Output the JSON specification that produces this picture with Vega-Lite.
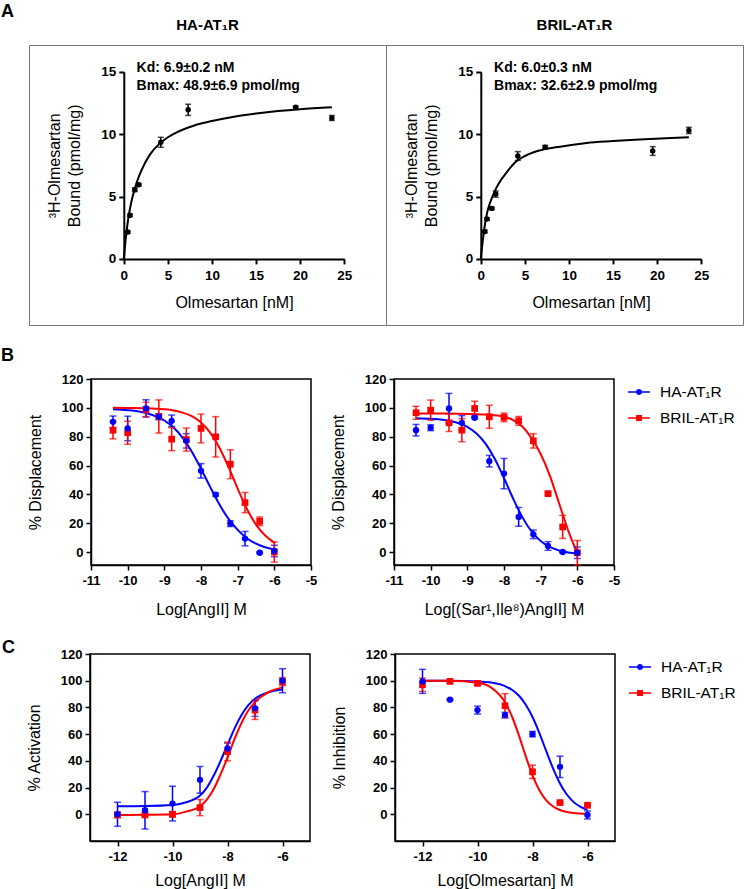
{
  "$schema": "https://vega.github.io/schema/vega-lite/v6.json",
  "padding": {"left": 1, "top": 2, "right": 0, "bottom": 0},
  "background": "white",
  "config": {
    "font": "Liberation Sans",
    "locale": {"number": {"decimal": ".", "thousands": ",", "grouping": [3], "currency": ["$", ""], "minus": "-"}},
    "view": {"stroke": "black", "strokeWidth": 1.5},
    "axis": {
      "grid": false, "labelFlush": false, "labelOverlap": false,
      "domainColor": "black", "domainWidth": 1.5, "tickColor": "black", "tickWidth": 1.5, "tickSize": 5,
      "labelColor": "black", "labelFont": "Liberation Sans", "labelFontSize": 13, "labelFontWeight": "bold", "labelPadding": 4,
      "titleColor": "black", "titleFont": "Liberation Sans", "titleFontSize": 16, "titleFontWeight": "normal"
    },
    "title": {"font": "Liberation Sans", "color": "black"},
    "legend": {"labelFont": "Liberation Sans", "labelColor": "black"},
    "text": {"font": "Liberation Sans"}
  },
  "datasets": {
    "notes": [
      {"panel": "A1", "lines": ["Kd: 6.9±0.2 nM", "Bmax: 48.9±6.9 pmol/mg"]},
      {"panel": "A2", "lines": ["Kd: 6.0±0.3 nM", "Bmax: 32.6±2.9 pmol/mg"]}
    ],
    "pts": [
      {"panel": "A1", "group": "-", "x": 0.45, "y": 2.15, "e": 0.1},
      {"panel": "A1", "group": "-", "x": 0.7, "y": 3.5, "e": 0.1},
      {"panel": "A1", "group": "-", "x": 1.25, "y": 5.55, "e": 0.15},
      {"panel": "A1", "group": "-", "x": 1.7, "y": 5.95, "e": 0.1},
      {"panel": "A1", "group": "-", "x": 4.2, "y": 9.35, "e": 0.4},
      {"panel": "A1", "group": "-", "x": 7.3, "y": 11.95, "e": 0.45},
      {"panel": "A1", "group": "-", "x": 19.5, "y": 12.15, "e": 0.1},
      {"panel": "A1", "group": "-", "x": 23.6, "y": 11.3, "e": 0.2},
      {"panel": "A2", "group": "-", "x": 0.45, "y": 2.2, "e": 0.1},
      {"panel": "A2", "group": "-", "x": 0.7, "y": 3.2, "e": 0.1},
      {"panel": "A2", "group": "-", "x": 1.25, "y": 4.05, "e": 0.1},
      {"panel": "A2", "group": "-", "x": 1.7, "y": 5.2, "e": 0.25},
      {"panel": "A2", "group": "-", "x": 4.2, "y": 8.25, "e": 0.35},
      {"panel": "A2", "group": "-", "x": 7.3, "y": 8.95, "e": 0.15},
      {"panel": "A2", "group": "-", "x": 19.5, "y": 8.65, "e": 0.35},
      {"panel": "A2", "group": "-", "x": 23.6, "y": 10.3, "e": 0.25},

      {"panel": "B1", "group": "HA-AT₁R", "x": -10.4, "y": 90.3, "e": 4},
      {"panel": "B1", "group": "HA-AT₁R", "x": -10, "y": 85.7, "e": 8.5},
      {"panel": "B1", "group": "HA-AT₁R", "x": -9.5, "y": 99.6, "e": 6},
      {"panel": "B1", "group": "HA-AT₁R", "x": -9.15, "y": 93.8, "e": 2},
      {"panel": "B1", "group": "HA-AT₁R", "x": -8.8, "y": 91, "e": 4},
      {"panel": "B1", "group": "HA-AT₁R", "x": -8.4, "y": 77.1, "e": 5},
      {"panel": "B1", "group": "HA-AT₁R", "x": -8, "y": 56.3, "e": 5},
      {"panel": "B1", "group": "HA-AT₁R", "x": -7.6, "y": 39.8, "e": 1},
      {"panel": "B1", "group": "HA-AT₁R", "x": -7.2, "y": 19.7, "e": 2},
      {"panel": "B1", "group": "HA-AT₁R", "x": -6.8, "y": 9.3, "e": 5},
      {"panel": "B1", "group": "HA-AT₁R", "x": -6.4, "y": -0.5, "e": 0.5},
      {"panel": "B1", "group": "HA-AT₁R", "x": -6, "y": 0.7, "e": 4},
      {"panel": "B1", "group": "BRIL-AT₁R", "x": -10.4, "y": 84.5, "e": 6},
      {"panel": "B1", "group": "BRIL-AT₁R", "x": -10, "y": 82.7, "e": 8},
      {"panel": "B1", "group": "BRIL-AT₁R", "x": -9.5, "y": 98.9, "e": 5},
      {"panel": "B1", "group": "BRIL-AT₁R", "x": -9.15, "y": 94, "e": 11.5},
      {"panel": "B1", "group": "BRIL-AT₁R", "x": -8.8, "y": 78.3, "e": 8},
      {"panel": "B1", "group": "BRIL-AT₁R", "x": -8.4, "y": 78, "e": 8},
      {"panel": "B1", "group": "BRIL-AT₁R", "x": -8, "y": 85.7, "e": 10},
      {"panel": "B1", "group": "BRIL-AT₁R", "x": -7.6, "y": 79.9, "e": 14},
      {"panel": "B1", "group": "BRIL-AT₁R", "x": -7.2, "y": 60.9, "e": 10},
      {"panel": "B1", "group": "BRIL-AT₁R", "x": -6.8, "y": 34.3, "e": 7},
      {"panel": "B1", "group": "BRIL-AT₁R", "x": -6.4, "y": 21.3, "e": 3},
      {"panel": "B1", "group": "BRIL-AT₁R", "x": -6, "y": 0, "e": 7},

      {"panel": "B2", "group": "HA-AT₁R", "x": -10.4, "y": 84.5, "e": 4},
      {"panel": "B2", "group": "HA-AT₁R", "x": -10, "y": 86.2, "e": 2},
      {"panel": "B2", "group": "HA-AT₁R", "x": -9.5, "y": 99.6, "e": 10.4},
      {"panel": "B2", "group": "HA-AT₁R", "x": -9.15, "y": 89.6, "e": 5},
      {"panel": "B2", "group": "HA-AT₁R", "x": -8.8, "y": 93.1, "e": 0.5},
      {"panel": "B2", "group": "HA-AT₁R", "x": -8.4, "y": 63, "e": 4},
      {"panel": "B2", "group": "HA-AT₁R", "x": -8, "y": 54.4, "e": 10.5},
      {"panel": "B2", "group": "HA-AT₁R", "x": -7.6, "y": 24.3, "e": 6.5},
      {"panel": "B2", "group": "HA-AT₁R", "x": -7.2, "y": 12.3, "e": 3},
      {"panel": "B2", "group": "HA-AT₁R", "x": -6.8, "y": 4.2, "e": 3},
      {"panel": "B2", "group": "HA-AT₁R", "x": -6.4, "y": 0, "e": 0.5},
      {"panel": "B2", "group": "HA-AT₁R", "x": -6, "y": -0.5, "e": 4},
      {"panel": "B2", "group": "BRIL-AT₁R", "x": -10.4, "y": 96.6, "e": 4.5},
      {"panel": "B2", "group": "BRIL-AT₁R", "x": -10, "y": 98.4, "e": 7},
      {"panel": "B2", "group": "BRIL-AT₁R", "x": -9.5, "y": 89.6, "e": 6},
      {"panel": "B2", "group": "BRIL-AT₁R", "x": -9.15, "y": 84.5, "e": 8},
      {"panel": "B2", "group": "BRIL-AT₁R", "x": -8.8, "y": 99.6, "e": 5},
      {"panel": "B2", "group": "BRIL-AT₁R", "x": -8.4, "y": 93.8, "e": 8},
      {"panel": "B2", "group": "BRIL-AT₁R", "x": -8, "y": 93.4, "e": 3},
      {"panel": "B2", "group": "BRIL-AT₁R", "x": -7.6, "y": 91, "e": 3},
      {"panel": "B2", "group": "BRIL-AT₁R", "x": -7.2, "y": 77.1, "e": 5},
      {"panel": "B2", "group": "BRIL-AT₁R", "x": -6.8, "y": 40.5, "e": 1},
      {"panel": "B2", "group": "BRIL-AT₁R", "x": -6.4, "y": 17.4, "e": 8},
      {"panel": "B2", "group": "BRIL-AT₁R", "x": -6, "y": -0.5, "e": 8.5},

      {"panel": "C1", "group": "HA-AT₁R", "x": -12, "y": 0, "e": 9},
      {"panel": "C1", "group": "HA-AT₁R", "x": -11, "y": 3, "e": 14},
      {"panel": "C1", "group": "HA-AT₁R", "x": -10, "y": 8, "e": 13},
      {"panel": "C1", "group": "HA-AT₁R", "x": -9, "y": 25.8, "e": 10},
      {"panel": "C1", "group": "HA-AT₁R", "x": -8, "y": 49.3, "e": 4},
      {"panel": "C1", "group": "HA-AT₁R", "x": -7, "y": 79.3, "e": 6},
      {"panel": "C1", "group": "HA-AT₁R", "x": -6, "y": 100, "e": 9},
      {"panel": "C1", "group": "BRIL-AT₁R", "x": -12, "y": -0.5, "e": 2},
      {"panel": "C1", "group": "BRIL-AT₁R", "x": -11, "y": -0.5, "e": 1},
      {"panel": "C1", "group": "BRIL-AT₁R", "x": -10, "y": 0, "e": 2},
      {"panel": "C1", "group": "BRIL-AT₁R", "x": -9, "y": 5, "e": 6},
      {"panel": "C1", "group": "BRIL-AT₁R", "x": -8, "y": 47, "e": 7},
      {"panel": "C1", "group": "BRIL-AT₁R", "x": -7, "y": 78, "e": 7},
      {"panel": "C1", "group": "BRIL-AT₁R", "x": -6, "y": 99.3, "e": 3},

      {"panel": "C2", "group": "HA-AT₁R", "x": -12, "y": 99.5, "e": 9},
      {"panel": "C2", "group": "HA-AT₁R", "x": -11, "y": 85.8, "e": 0.5},
      {"panel": "C2", "group": "HA-AT₁R", "x": -10, "y": 78, "e": 3},
      {"panel": "C2", "group": "HA-AT₁R", "x": -9, "y": 74.3, "e": 2},
      {"panel": "C2", "group": "HA-AT₁R", "x": -8, "y": 60, "e": 2},
      {"panel": "C2", "group": "HA-AT₁R", "x": -7, "y": 35.5, "e": 8},
      {"panel": "C2", "group": "HA-AT₁R", "x": -6, "y": -0.5, "e": 3},
      {"panel": "C2", "group": "BRIL-AT₁R", "x": -12, "y": 97, "e": 5},
      {"panel": "C2", "group": "BRIL-AT₁R", "x": -11, "y": 99.5, "e": 0.5},
      {"panel": "C2", "group": "BRIL-AT₁R", "x": -10, "y": 98, "e": 1.5},
      {"panel": "C2", "group": "BRIL-AT₁R", "x": -9, "y": 81.3, "e": 9},
      {"panel": "C2", "group": "BRIL-AT₁R", "x": -8, "y": 31.8, "e": 5},
      {"panel": "C2", "group": "BRIL-AT₁R", "x": -7, "y": 8.75, "e": 0.5},
      {"panel": "C2", "group": "BRIL-AT₁R", "x": -6, "y": 6.75, "e": 0.5}
    ],
    "fit": [
      {"panel": "A1", "group": "-", "x": 0, "y": 0},
      {"panel": "A1", "group": "-", "x": 0.25, "y": 1.8},
      {"panel": "A1", "group": "-", "x": 0.5, "y": 3.2},
      {"panel": "A1", "group": "-", "x": 0.75, "y": 4.2},
      {"panel": "A1", "group": "-", "x": 1, "y": 5.0},
      {"panel": "A1", "group": "-", "x": 1.5, "y": 6.2},
      {"panel": "A1", "group": "-", "x": 2, "y": 7.1},
      {"panel": "A1", "group": "-", "x": 3, "y": 8.4},
      {"panel": "A1", "group": "-", "x": 4, "y": 9.2},
      {"panel": "A1", "group": "-", "x": 5, "y": 9.75},
      {"panel": "A1", "group": "-", "x": 6, "y": 10.15},
      {"panel": "A1", "group": "-", "x": 8, "y": 10.7},
      {"panel": "A1", "group": "-", "x": 10, "y": 11.05},
      {"panel": "A1", "group": "-", "x": 12.5, "y": 11.4},
      {"panel": "A1", "group": "-", "x": 15, "y": 11.65},
      {"panel": "A1", "group": "-", "x": 17.5, "y": 11.85},
      {"panel": "A1", "group": "-", "x": 20, "y": 12.0},
      {"panel": "A1", "group": "-", "x": 23.6, "y": 12.15},
      {"panel": "A2", "group": "-", "x": 0, "y": 0},
      {"panel": "A2", "group": "-", "x": 0.25, "y": 1.6},
      {"panel": "A2", "group": "-", "x": 0.5, "y": 2.9},
      {"panel": "A2", "group": "-", "x": 0.75, "y": 3.8},
      {"panel": "A2", "group": "-", "x": 1, "y": 4.4},
      {"panel": "A2", "group": "-", "x": 1.5, "y": 5.3},
      {"panel": "A2", "group": "-", "x": 2, "y": 6.0},
      {"panel": "A2", "group": "-", "x": 3, "y": 7.0},
      {"panel": "A2", "group": "-", "x": 4, "y": 7.8},
      {"panel": "A2", "group": "-", "x": 5, "y": 8.25},
      {"panel": "A2", "group": "-", "x": 6, "y": 8.55},
      {"panel": "A2", "group": "-", "x": 7, "y": 8.75},
      {"panel": "A2", "group": "-", "x": 9, "y": 9.0},
      {"panel": "A2", "group": "-", "x": 12, "y": 9.3},
      {"panel": "A2", "group": "-", "x": 15, "y": 9.45},
      {"panel": "A2", "group": "-", "x": 18, "y": 9.58},
      {"panel": "A2", "group": "-", "x": 21, "y": 9.68},
      {"panel": "A2", "group": "-", "x": 23.6, "y": 9.75},

      {"panel": "B1", "group": "HA-AT₁R", "x": -10.4, "y": 99.0},
      {"panel": "B1", "group": "HA-AT₁R", "x": -10, "y": 98.4},
      {"panel": "B1", "group": "HA-AT₁R", "x": -9.5, "y": 96.4},
      {"panel": "B1", "group": "HA-AT₁R", "x": -9, "y": 91.2},
      {"panel": "B1", "group": "HA-AT₁R", "x": -8.75, "y": 86.3},
      {"panel": "B1", "group": "HA-AT₁R", "x": -8.5, "y": 79.2},
      {"panel": "B1", "group": "HA-AT₁R", "x": -8.25, "y": 69.6},
      {"panel": "B1", "group": "HA-AT₁R", "x": -8, "y": 57.8},
      {"panel": "B1", "group": "HA-AT₁R", "x": -7.75, "y": 45.2},
      {"panel": "B1", "group": "HA-AT₁R", "x": -7.5, "y": 33.1},
      {"panel": "B1", "group": "HA-AT₁R", "x": -7.25, "y": 23.0},
      {"panel": "B1", "group": "HA-AT₁R", "x": -7, "y": 15.4},
      {"panel": "B1", "group": "HA-AT₁R", "x": -6.75, "y": 9.6},
      {"panel": "B1", "group": "HA-AT₁R", "x": -6.5, "y": 5.8},
      {"panel": "B1", "group": "HA-AT₁R", "x": -6.25, "y": 3.3},
      {"panel": "B1", "group": "HA-AT₁R", "x": -6, "y": 1.8},
      {"panel": "B1", "group": "BRIL-AT₁R", "x": -10.4, "y": 100},
      {"panel": "B1", "group": "BRIL-AT₁R", "x": -10, "y": 99.9},
      {"panel": "B1", "group": "BRIL-AT₁R", "x": -9.5, "y": 99.7},
      {"panel": "B1", "group": "BRIL-AT₁R", "x": -9, "y": 99.0},
      {"panel": "B1", "group": "BRIL-AT₁R", "x": -8.75, "y": 98.2},
      {"panel": "B1", "group": "BRIL-AT₁R", "x": -8.5, "y": 96.7},
      {"panel": "B1", "group": "BRIL-AT₁R", "x": -8.25, "y": 94.2},
      {"panel": "B1", "group": "BRIL-AT₁R", "x": -8, "y": 89.8},
      {"panel": "B1", "group": "BRIL-AT₁R", "x": -7.75, "y": 82.8},
      {"panel": "B1", "group": "BRIL-AT₁R", "x": -7.5, "y": 72.5},
      {"panel": "B1", "group": "BRIL-AT₁R", "x": -7.25, "y": 59.0},
      {"panel": "B1", "group": "BRIL-AT₁R", "x": -7, "y": 44.0},
      {"panel": "B1", "group": "BRIL-AT₁R", "x": -6.75, "y": 30.0},
      {"panel": "B1", "group": "BRIL-AT₁R", "x": -6.5, "y": 19.0},
      {"panel": "B1", "group": "BRIL-AT₁R", "x": -6.25, "y": 11.4},
      {"panel": "B1", "group": "BRIL-AT₁R", "x": -6, "y": 6.5},

      {"panel": "B2", "group": "HA-AT₁R", "x": -10.4, "y": 92.8},
      {"panel": "B2", "group": "HA-AT₁R", "x": -10, "y": 92.4},
      {"panel": "B2", "group": "HA-AT₁R", "x": -9.5, "y": 91.1},
      {"panel": "B2", "group": "HA-AT₁R", "x": -9, "y": 86.8},
      {"panel": "B2", "group": "HA-AT₁R", "x": -8.75, "y": 82.2},
      {"panel": "B2", "group": "HA-AT₁R", "x": -8.5, "y": 75.0},
      {"panel": "B2", "group": "HA-AT₁R", "x": -8.25, "y": 64.5},
      {"panel": "B2", "group": "HA-AT₁R", "x": -8, "y": 51.2},
      {"panel": "B2", "group": "HA-AT₁R", "x": -7.75, "y": 37.0},
      {"panel": "B2", "group": "HA-AT₁R", "x": -7.5, "y": 24.2},
      {"panel": "B2", "group": "HA-AT₁R", "x": -7.25, "y": 14.3},
      {"panel": "B2", "group": "HA-AT₁R", "x": -7, "y": 7.7},
      {"panel": "B2", "group": "HA-AT₁R", "x": -6.75, "y": 3.5},
      {"panel": "B2", "group": "HA-AT₁R", "x": -6.5, "y": 1.1},
      {"panel": "B2", "group": "HA-AT₁R", "x": -6.25, "y": -0.3},
      {"panel": "B2", "group": "HA-AT₁R", "x": -6, "y": -1.05},
      {"panel": "B2", "group": "BRIL-AT₁R", "x": -10.4, "y": 96},
      {"panel": "B2", "group": "BRIL-AT₁R", "x": -10, "y": 96},
      {"panel": "B2", "group": "BRIL-AT₁R", "x": -9.5, "y": 96},
      {"panel": "B2", "group": "BRIL-AT₁R", "x": -9, "y": 95.8},
      {"panel": "B2", "group": "BRIL-AT₁R", "x": -8.5, "y": 95.3},
      {"panel": "B2", "group": "BRIL-AT₁R", "x": -8, "y": 93.8},
      {"panel": "B2", "group": "BRIL-AT₁R", "x": -7.75, "y": 91.5},
      {"panel": "B2", "group": "BRIL-AT₁R", "x": -7.5, "y": 87},
      {"panel": "B2", "group": "BRIL-AT₁R", "x": -7.25, "y": 79},
      {"panel": "B2", "group": "BRIL-AT₁R", "x": -7, "y": 68},
      {"panel": "B2", "group": "BRIL-AT₁R", "x": -6.75, "y": 53},
      {"panel": "B2", "group": "BRIL-AT₁R", "x": -6.5, "y": 34},
      {"panel": "B2", "group": "BRIL-AT₁R", "x": -6.25, "y": 15},
      {"panel": "B2", "group": "BRIL-AT₁R", "x": -6, "y": -1},

      {"panel": "C1", "group": "HA-AT₁R", "x": -12, "y": 6},
      {"panel": "C1", "group": "HA-AT₁R", "x": -11, "y": 6.2},
      {"panel": "C1", "group": "HA-AT₁R", "x": -10, "y": 7},
      {"panel": "C1", "group": "HA-AT₁R", "x": -9.5, "y": 9},
      {"panel": "C1", "group": "HA-AT₁R", "x": -9, "y": 14},
      {"panel": "C1", "group": "HA-AT₁R", "x": -8.75, "y": 20},
      {"panel": "C1", "group": "HA-AT₁R", "x": -8.5, "y": 29},
      {"panel": "C1", "group": "HA-AT₁R", "x": -8.25, "y": 40},
      {"panel": "C1", "group": "HA-AT₁R", "x": -8, "y": 52},
      {"panel": "C1", "group": "HA-AT₁R", "x": -7.75, "y": 64},
      {"panel": "C1", "group": "HA-AT₁R", "x": -7.5, "y": 74},
      {"panel": "C1", "group": "HA-AT₁R", "x": -7.25, "y": 81.5},
      {"panel": "C1", "group": "HA-AT₁R", "x": -7, "y": 86.5},
      {"panel": "C1", "group": "HA-AT₁R", "x": -6.5, "y": 91.5},
      {"panel": "C1", "group": "HA-AT₁R", "x": -6, "y": 93.5},
      {"panel": "C1", "group": "BRIL-AT₁R", "x": -12, "y": -0.5},
      {"panel": "C1", "group": "BRIL-AT₁R", "x": -11, "y": -0.4},
      {"panel": "C1", "group": "BRIL-AT₁R", "x": -10, "y": 0},
      {"panel": "C1", "group": "BRIL-AT₁R", "x": -9.5, "y": 2},
      {"panel": "C1", "group": "BRIL-AT₁R", "x": -9, "y": 6},
      {"panel": "C1", "group": "BRIL-AT₁R", "x": -8.75, "y": 11},
      {"panel": "C1", "group": "BRIL-AT₁R", "x": -8.5, "y": 19},
      {"panel": "C1", "group": "BRIL-AT₁R", "x": -8.25, "y": 30},
      {"panel": "C1", "group": "BRIL-AT₁R", "x": -8, "y": 42.5},
      {"panel": "C1", "group": "BRIL-AT₁R", "x": -7.75, "y": 56},
      {"panel": "C1", "group": "BRIL-AT₁R", "x": -7.5, "y": 68},
      {"panel": "C1", "group": "BRIL-AT₁R", "x": -7.25, "y": 77.5},
      {"panel": "C1", "group": "BRIL-AT₁R", "x": -7, "y": 84},
      {"panel": "C1", "group": "BRIL-AT₁R", "x": -6.5, "y": 91.5},
      {"panel": "C1", "group": "BRIL-AT₁R", "x": -6, "y": 95},

      {"panel": "C2", "group": "HA-AT₁R", "x": -12, "y": 100},
      {"panel": "C2", "group": "HA-AT₁R", "x": -11, "y": 100},
      {"panel": "C2", "group": "HA-AT₁R", "x": -10, "y": 99.5},
      {"panel": "C2", "group": "HA-AT₁R", "x": -9.5, "y": 98.6},
      {"panel": "C2", "group": "HA-AT₁R", "x": -9, "y": 96},
      {"panel": "C2", "group": "HA-AT₁R", "x": -8.75, "y": 93.2},
      {"panel": "C2", "group": "HA-AT₁R", "x": -8.5, "y": 88.9},
      {"panel": "C2", "group": "HA-AT₁R", "x": -8.25, "y": 82.2},
      {"panel": "C2", "group": "HA-AT₁R", "x": -8, "y": 72.8},
      {"panel": "C2", "group": "HA-AT₁R", "x": -7.75, "y": 60.8},
      {"panel": "C2", "group": "HA-AT₁R", "x": -7.5, "y": 47.3},
      {"panel": "C2", "group": "HA-AT₁R", "x": -7.25, "y": 34.2},
      {"panel": "C2", "group": "HA-AT₁R", "x": -7, "y": 23.1},
      {"panel": "C2", "group": "HA-AT₁R", "x": -6.75, "y": 14.8},
      {"panel": "C2", "group": "HA-AT₁R", "x": -6.5, "y": 9.1},
      {"panel": "C2", "group": "HA-AT₁R", "x": -6.25, "y": 5.5},
      {"panel": "C2", "group": "HA-AT₁R", "x": -6, "y": 3.3},
      {"panel": "C2", "group": "BRIL-AT₁R", "x": -12, "y": 100},
      {"panel": "C2", "group": "BRIL-AT₁R", "x": -11, "y": 99.9},
      {"panel": "C2", "group": "BRIL-AT₁R", "x": -10, "y": 98.5},
      {"panel": "C2", "group": "BRIL-AT₁R", "x": -9.5, "y": 94.8},
      {"panel": "C2", "group": "BRIL-AT₁R", "x": -9, "y": 83.8},
      {"panel": "C2", "group": "BRIL-AT₁R", "x": -8.75, "y": 73.4},
      {"panel": "C2", "group": "BRIL-AT₁R", "x": -8.5, "y": 59.4},
      {"panel": "C2", "group": "BRIL-AT₁R", "x": -8.25, "y": 43.7},
      {"panel": "C2", "group": "BRIL-AT₁R", "x": -8, "y": 29.2},
      {"panel": "C2", "group": "BRIL-AT₁R", "x": -7.75, "y": 18.0},
      {"panel": "C2", "group": "BRIL-AT₁R", "x": -7.5, "y": 10.4},
      {"panel": "C2", "group": "BRIL-AT₁R", "x": -7.25, "y": 5.8},
      {"panel": "C2", "group": "BRIL-AT₁R", "x": -7, "y": 3.2},
      {"panel": "C2", "group": "BRIL-AT₁R", "x": -6.5, "y": 0.9},
      {"panel": "C2", "group": "BRIL-AT₁R", "x": -6, "y": 0.3}
    ]
  },
  "spacing": 21,
  "resolve": {"scale": {"fill": "independent", "shape": "independent"}, "legend": {"fill": "independent", "shape": "independent"}},
  "vconcat": [
    {
      "title": {"text": "A", "anchor": "start", "frame": "group", "fontSize": 18, "fontWeight": "bold", "dx": -28, "dy": 7},
      "bounds": "flush",
      "spacing": 0,
      "hconcat": [
        {
          "width": 357, "height": 280,
          "view": {"stroke": "#777777", "strokeWidth": 1},
          "title": {"text": "HA-AT₁R", "fontSize": 15, "fontWeight": "bold", "offset": 12},
          "layer": [
            {"data": {"name": "fit"}, "transform": [{"filter": "datum.panel == 'A1'"}], "mark": {"type": "line", "color": "black", "strokeWidth": 2, "interpolate": "monotone"},
             "encoding": {
               "x": {"field": "x", "type": "quantitative", "scale": {"domain": [0, 25], "range": [94.8, 315.2], "nice": false, "zero": false}, "axis": {"values": [0, 5, 10, 15, 20, 25], "offset": -66.1, "title": "Olmesartan [nM]", "labelPadding": 5, "titlePadding": 12, "tickWidth": 2, "domainWidth": 2, "labelFontSize": 13.5}},
               "y": {"field": "y", "type": "quantitative", "scale": {"domain": [0, 15], "range": [213.9, 26.8], "nice": false, "zero": false}, "axis": {"values": [0, 5, 10, 15], "offset": -94.8, "title": ["³H-Olmesartan", "Bound (pmol/mg)"], "titleLineHeight": 20, "titlePadding": 18, "labelPadding": 3, "tickWidth": 2, "domainWidth": 2, "labelFontSize": 13.5}}
             }},
            {"data": {"name": "pts"}, "transform": [{"filter": "datum.panel == 'A1'"}], "mark": {"type": "errorbar", "color": "black", "thickness": 1.5, "ticks": {"size": 6}},
             "encoding": {
               "x": {"field": "x", "type": "quantitative", "scale": {"domain": [0, 25], "range": [94.8, 315.2], "nice": false, "zero": false}, "axis": {"values": [0, 5, 10, 15, 20, 25], "offset": -66.1, "title": "Olmesartan [nM]", "labelPadding": 5, "titlePadding": 12, "tickWidth": 2, "domainWidth": 2, "labelFontSize": 13.5}},
               "y": {"field": "y", "type": "quantitative", "scale": {"domain": [0, 15], "range": [213.9, 26.8], "nice": false, "zero": false}, "axis": {"values": [0, 5, 10, 15], "offset": -94.8, "title": ["³H-Olmesartan", "Bound (pmol/mg)"], "titleLineHeight": 20, "titlePadding": 18, "labelPadding": 3, "tickWidth": 2, "domainWidth": 2, "labelFontSize": 13.5}},
               "yError": {"field": "e"}
             }},
            {"data": {"name": "pts"}, "transform": [{"filter": "datum.panel == 'A1'"}], "mark": {"type": "point", "shape": "circle", "filled": true, "size": 30, "color": "black", "opacity": 1},
             "encoding": {
               "x": {"field": "x", "type": "quantitative", "scale": {"domain": [0, 25], "range": [94.8, 315.2], "nice": false, "zero": false}, "axis": {"values": [0, 5, 10, 15, 20, 25], "offset": -66.1, "title": "Olmesartan [nM]", "labelPadding": 5, "titlePadding": 12, "tickWidth": 2, "domainWidth": 2, "labelFontSize": 13.5}},
               "y": {"field": "y", "type": "quantitative", "scale": {"domain": [0, 15], "range": [213.9, 26.8], "nice": false, "zero": false}, "axis": {"values": [0, 5, 10, 15], "offset": -94.8, "title": ["³H-Olmesartan", "Bound (pmol/mg)"], "titleLineHeight": 20, "titlePadding": 18, "labelPadding": 3, "tickWidth": 2, "domainWidth": 2, "labelFontSize": 13.5}}
             }},
            {"data": {"name": "notes"}, "transform": [{"filter": "datum.panel == 'A1'"}], "mark": {"type": "text", "align": "left", "baseline": "alphabetic", "fontSize": 14, "fontWeight": "bold", "lineHeight": 18, "color": "black"},
             "encoding": {
               "x": {"datum": 1.45, "type": "quantitative", "scale": {"domain": [0, 25], "range": [94.8, 315.2], "nice": false, "zero": false}, "axis": {"values": [0, 5, 10, 15, 20, 25], "offset": -66.1, "title": "Olmesartan [nM]", "labelPadding": 5, "titlePadding": 12, "tickWidth": 2, "domainWidth": 2, "labelFontSize": 13.5}},
               "y": {"datum": 15, "type": "quantitative", "scale": {"domain": [0, 15], "range": [213.9, 26.8], "nice": false, "zero": false}, "axis": {"values": [0, 5, 10, 15], "offset": -94.8, "title": ["³H-Olmesartan", "Bound (pmol/mg)"], "titleLineHeight": 20, "titlePadding": 18, "labelPadding": 3, "tickWidth": 2, "domainWidth": 2, "labelFontSize": 13.5}},
               "text": {"field": "lines"}
             }}
          ]
        },
        {
          "width": 357, "height": 280,
          "view": {"stroke": "#777777", "strokeWidth": 1},
          "title": {"text": "BRIL-AT₁R", "fontSize": 15, "fontWeight": "bold", "offset": 12, "dx": 10},
          "layer": [
            {"data": {"name": "fit"}, "transform": [{"filter": "datum.panel == 'A2'"}], "mark": {"type": "line", "color": "black", "strokeWidth": 2, "interpolate": "monotone"},
             "encoding": {
               "x": {"field": "x", "type": "quantitative", "scale": {"domain": [0, 25], "range": [94.8, 315.2], "nice": false, "zero": false}, "axis": {"values": [0, 5, 10, 15, 20, 25], "offset": -66.1, "title": "Olmesartan [nM]", "labelPadding": 5, "titlePadding": 12, "tickWidth": 2, "domainWidth": 2, "labelFontSize": 13.5}},
               "y": {"field": "y", "type": "quantitative", "scale": {"domain": [0, 15], "range": [213.9, 26.8], "nice": false, "zero": false}, "axis": {"values": [0, 5, 10, 15], "offset": -94.8, "title": ["³H-Olmesartan", "Bound (pmol/mg)"], "titleLineHeight": 20, "titlePadding": 18, "labelPadding": 3, "tickWidth": 2, "domainWidth": 2, "labelFontSize": 13.5}}
             }},
            {"data": {"name": "pts"}, "transform": [{"filter": "datum.panel == 'A2'"}], "mark": {"type": "errorbar", "color": "black", "thickness": 1.5, "ticks": {"size": 6}},
             "encoding": {
               "x": {"field": "x", "type": "quantitative", "scale": {"domain": [0, 25], "range": [94.8, 315.2], "nice": false, "zero": false}, "axis": {"values": [0, 5, 10, 15, 20, 25], "offset": -66.1, "title": "Olmesartan [nM]", "labelPadding": 5, "titlePadding": 12, "tickWidth": 2, "domainWidth": 2, "labelFontSize": 13.5}},
               "y": {"field": "y", "type": "quantitative", "scale": {"domain": [0, 15], "range": [213.9, 26.8], "nice": false, "zero": false}, "axis": {"values": [0, 5, 10, 15], "offset": -94.8, "title": ["³H-Olmesartan", "Bound (pmol/mg)"], "titleLineHeight": 20, "titlePadding": 18, "labelPadding": 3, "tickWidth": 2, "domainWidth": 2, "labelFontSize": 13.5}},
               "yError": {"field": "e"}
             }},
            {"data": {"name": "pts"}, "transform": [{"filter": "datum.panel == 'A2'"}], "mark": {"type": "point", "shape": "circle", "filled": true, "size": 30, "color": "black", "opacity": 1},
             "encoding": {
               "x": {"field": "x", "type": "quantitative", "scale": {"domain": [0, 25], "range": [94.8, 315.2], "nice": false, "zero": false}, "axis": {"values": [0, 5, 10, 15, 20, 25], "offset": -66.1, "title": "Olmesartan [nM]", "labelPadding": 5, "titlePadding": 12, "tickWidth": 2, "domainWidth": 2, "labelFontSize": 13.5}},
               "y": {"field": "y", "type": "quantitative", "scale": {"domain": [0, 15], "range": [213.9, 26.8], "nice": false, "zero": false}, "axis": {"values": [0, 5, 10, 15], "offset": -94.8, "title": ["³H-Olmesartan", "Bound (pmol/mg)"], "titleLineHeight": 20, "titlePadding": 18, "labelPadding": 3, "tickWidth": 2, "domainWidth": 2, "labelFontSize": 13.5}}
             }},
            {"data": {"name": "notes"}, "transform": [{"filter": "datum.panel == 'A2'"}], "mark": {"type": "text", "align": "left", "baseline": "alphabetic", "fontSize": 14, "fontWeight": "bold", "lineHeight": 18, "color": "black"},
             "encoding": {
               "x": {"datum": 1.5, "type": "quantitative", "scale": {"domain": [0, 25], "range": [94.8, 315.2], "nice": false, "zero": false}, "axis": {"values": [0, 5, 10, 15, 20, 25], "offset": -66.1, "title": "Olmesartan [nM]", "labelPadding": 5, "titlePadding": 12, "tickWidth": 2, "domainWidth": 2, "labelFontSize": 13.5}},
               "y": {"datum": 15, "type": "quantitative", "scale": {"domain": [0, 15], "range": [213.9, 26.8], "nice": false, "zero": false}, "axis": {"values": [0, 5, 10, 15], "offset": -94.8, "title": ["³H-Olmesartan", "Bound (pmol/mg)"], "titleLineHeight": 20, "titlePadding": 18, "labelPadding": 3, "tickWidth": 2, "domainWidth": 2, "labelFontSize": 13.5}},
               "text": {"field": "lines"}
             }}
          ]
        }
      ]
    },
    {
      "title": {"text": "B", "anchor": "start", "frame": "group", "fontSize": 18, "fontWeight": "bold", "dx": -28, "dy": -3},
      "bounds": "flush",
      "spacing": 0,
      "resolve": {"scale": {"fill": "independent", "shape": "independent"}, "legend": {"fill": "independent", "shape": "independent"}},
      "hconcat": [
        {"width": 62, "height": 10, "data": {"values": []}, "mark": "point", "encoding": {}, "view": {"stroke": null}},
        {
          "bounds": "flush",
          "spacing": 83,
          "resolve": {"scale": {"fill": "independent", "shape": "independent"}, "legend": {"fill": "independent", "shape": "independent"}},
          "hconcat": [
            {
              "width": 220, "height": 186,
              "encoding": {
                "x": {"field": "x", "type": "quantitative", "scale": {"domain": [-11, -5], "nice": false, "zero": false},
                      "axis": {"values": [-11, -10, -9, -8, -7, -6, -5], "title": "Log[AngII] M", "labelPadding": 4, "titlePadding": 14}},
                "y": {"field": "y", "type": "quantitative", "scale": {"domain": [-9, 120], "nice": false, "zero": false},
                      "axis": {"values": [0, 20, 40, 60, 80, 100, 120], "title": "% Displacement", "labelPadding": 3, "titlePadding": 18}}
              },
              "layer": [
                {"data": {"name": "fit"}, "transform": [{"filter": "datum.panel == 'B1'"}], "mark": {"type": "line", "strokeWidth": 2, "interpolate": "monotone"},
                 "encoding": {"color": {"field": "group", "type": "nominal", "scale": {"domain": ["HA-AT₁R", "BRIL-AT₁R"], "range": ["#0000ff", "#ff0000"]}, "legend": null}}},
                {"data": {"name": "pts"}, "transform": [{"filter": "datum.panel == 'B1'"}], "mark": {"type": "errorbar", "thickness": 1.5, "ticks": {"size": 7}},
                 "encoding": {"yError": {"field": "e"}, "color": {"field": "group", "type": "nominal", "legend": null}}},
                {"data": {"name": "pts"}, "transform": [{"filter": "datum.panel == 'B1' && datum.group == 'BRIL-AT₁R'"}], "mark": {"type": "point", "shape": "square", "filled": true, "size": 45, "color": "#ff0000", "opacity": 1}},
                {"data": {"name": "pts"}, "transform": [{"filter": "datum.panel == 'B1' && datum.group == 'HA-AT₁R'"}], "mark": {"type": "point", "shape": "circle", "filled": true, "size": 40, "color": "#0000ff", "opacity": 1}}
              ]
            },
            {
              "width": 220, "height": 186,
              "encoding": {
                "x": {"field": "x", "type": "quantitative", "scale": {"domain": [-11, -5], "nice": false, "zero": false},
                      "axis": {"values": [-11, -10, -9, -8, -7, -6, -5], "title": "Log[(Sar¹,Ile⁸)AngII] M", "labelPadding": 4, "titlePadding": 14}},
                "y": {"field": "y", "type": "quantitative", "scale": {"domain": [-9, 120], "nice": false, "zero": false},
                      "axis": {"values": [0, 20, 40, 60, 80, 100, 120], "title": "% Displacement", "labelPadding": 3, "titlePadding": 18}}
              },
              "layer": [
                {"data": {"name": "fit"}, "transform": [{"filter": "datum.panel == 'B2'"}], "mark": {"type": "line", "strokeWidth": 2, "interpolate": "monotone"},
                 "encoding": {"color": {"field": "group", "type": "nominal", "scale": {"domain": ["HA-AT₁R", "BRIL-AT₁R"], "range": ["#0000ff", "#ff0000"]}, "legend": null}}},
                {"data": {"name": "pts"}, "transform": [{"filter": "datum.panel == 'B2'"}], "mark": {"type": "errorbar", "thickness": 1.5, "ticks": {"size": 7}},
                 "encoding": {"yError": {"field": "e"}, "color": {"field": "group", "type": "nominal", "legend": null}}},
                {"data": {"name": "pts"}, "transform": [{"filter": "datum.panel == 'B2' && datum.group == 'BRIL-AT₁R'"}], "mark": {"type": "point", "shape": "square", "filled": true, "size": 45, "color": "#ff0000", "opacity": 1}},
                {"data": {"name": "pts"}, "transform": [{"filter": "datum.panel == 'B2' && datum.group == 'HA-AT₁R'"}], "mark": {"type": "point", "shape": "circle", "filled": true, "size": 40, "color": "#0000ff", "opacity": 1}},
                {"data": {"name": "fit"}, "transform": [{"filter": "datum.panel == 'B2'"}], "mark": {"type": "point", "filled": true, "opacity": 0},
                 "encoding": {
                   "fill": {"field": "group", "type": "nominal", "scale": {"domain": ["HA-AT₁R", "BRIL-AT₁R"], "range": ["#0000ff", "#ff0000"]},
                            "legend": {"title": null, "orient": "right", "offset": 12, "padding": 2, "symbolSize": 484, "symbolStrokeWidth": 0, "symbolOpacity": 1, "labelFontSize": 15.5, "labelOffset": 10, "rowPadding": 6}},
                   "shape": {"field": "group", "type": "nominal", "scale": {"domain": ["HA-AT₁R", "BRIL-AT₁R"], "range": ["M-1,-0.07H-0.26V0.07H-1Z M0.26,-0.07H1V0.07H0.26Z M0.27,0A0.27,0.27,0,1,1,-0.27,0A0.27,0.27,0,1,1,0.27,0Z", "M-1,-0.07H-0.27V0.07H-1Z M0.27,-0.07H1V0.07H0.27Z M-0.27,-0.27H0.27V0.27H-0.27Z"]},
                             "legend": {"title": null, "orient": "right", "offset": 12, "padding": 2, "symbolSize": 484, "symbolStrokeWidth": 0, "symbolOpacity": 1, "labelFontSize": 15.5, "labelOffset": 10, "rowPadding": 6}}
                 }}
              ]
            }
          ]
        }
      ]
    },
    {
      "title": {"text": "C", "anchor": "start", "frame": "group", "fontSize": 18, "fontWeight": "bold", "dx": -27, "dy": 14},
      "bounds": "flush",
      "spacing": 0,
      "resolve": {"scale": {"fill": "independent", "shape": "independent"}, "legend": {"fill": "independent", "shape": "independent"}},
      "hconcat": [
        {"width": 61, "height": 10, "data": {"values": []}, "mark": "point", "encoding": {}, "view": {"stroke": null}},
        {
          "bounds": "flush",
          "spacing": 85,
          "resolve": {"scale": {"fill": "independent", "shape": "independent"}, "legend": {"fill": "independent", "shape": "independent"}},
          "hconcat": [
            {
              "width": 220, "height": 187,
              "encoding": {
                "x": {"field": "x", "type": "quantitative", "scale": {"domain": [-13, -5], "nice": false, "zero": false},
                      "axis": {"values": [-12, -10, -8, -6], "title": "Log[AngII] M", "labelPadding": 4, "titlePadding": 9}},
                "y": {"field": "y", "type": "quantitative", "scale": {"domain": [-20, 120], "nice": false, "zero": false},
                      "axis": {"values": [0, 20, 40, 60, 80, 100, 120], "title": "% Activation", "labelPadding": 3, "titlePadding": 18}}
              },
              "layer": [
                {"data": {"name": "fit"}, "transform": [{"filter": "datum.panel == 'C1'"}], "mark": {"type": "line", "strokeWidth": 2, "interpolate": "monotone"},
                 "encoding": {"color": {"field": "group", "type": "nominal", "scale": {"domain": ["HA-AT₁R", "BRIL-AT₁R"], "range": ["#0000ff", "#ff0000"]}, "legend": null}}},
                {"data": {"name": "pts"}, "transform": [{"filter": "datum.panel == 'C1'"}], "mark": {"type": "errorbar", "thickness": 1.5, "ticks": {"size": 7}},
                 "encoding": {"yError": {"field": "e"}, "color": {"field": "group", "type": "nominal", "legend": null}}},
                {"data": {"name": "pts"}, "transform": [{"filter": "datum.panel == 'C1' && datum.group == 'BRIL-AT₁R'"}], "mark": {"type": "point", "shape": "square", "filled": true, "size": 45, "color": "#ff0000", "opacity": 1}},
                {"data": {"name": "pts"}, "transform": [{"filter": "datum.panel == 'C1' && datum.group == 'HA-AT₁R'"}], "mark": {"type": "point", "shape": "circle", "filled": true, "size": 40, "color": "#0000ff", "opacity": 1}}
              ]
            },
            {
              "width": 220, "height": 187,
              "encoding": {
                "x": {"field": "x", "type": "quantitative", "scale": {"domain": [-13, -5], "nice": false, "zero": false},
                      "axis": {"values": [-12, -10, -8, -6], "title": "Log[Olmesartan] M", "labelPadding": 4, "titlePadding": 9}},
                "y": {"field": "y", "type": "quantitative", "scale": {"domain": [-20, 120], "nice": false, "zero": false},
                      "axis": {"values": [0, 20, 40, 60, 80, 100, 120], "title": "% Inhibition", "labelPadding": 3, "titlePadding": 18}}
              },
              "layer": [
                {"data": {"name": "fit"}, "transform": [{"filter": "datum.panel == 'C2'"}], "mark": {"type": "line", "strokeWidth": 2, "interpolate": "monotone"},
                 "encoding": {"color": {"field": "group", "type": "nominal", "scale": {"domain": ["HA-AT₁R", "BRIL-AT₁R"], "range": ["#0000ff", "#ff0000"]}, "legend": null}}},
                {"data": {"name": "pts"}, "transform": [{"filter": "datum.panel == 'C2'"}], "mark": {"type": "errorbar", "thickness": 1.5, "ticks": {"size": 7}},
                 "encoding": {"yError": {"field": "e"}, "color": {"field": "group", "type": "nominal", "legend": null}}},
                {"data": {"name": "pts"}, "transform": [{"filter": "datum.panel == 'C2' && datum.group == 'BRIL-AT₁R'"}], "mark": {"type": "point", "shape": "square", "filled": true, "size": 45, "color": "#ff0000", "opacity": 1}},
                {"data": {"name": "pts"}, "transform": [{"filter": "datum.panel == 'C2' && datum.group == 'HA-AT₁R'"}], "mark": {"type": "point", "shape": "circle", "filled": true, "size": 40, "color": "#0000ff", "opacity": 1}},
                {"data": {"name": "fit"}, "transform": [{"filter": "datum.panel == 'C2'"}], "mark": {"type": "point", "filled": true, "opacity": 0},
                 "encoding": {
                   "fill": {"field": "group", "type": "nominal", "scale": {"domain": ["HA-AT₁R", "BRIL-AT₁R"], "range": ["#0000ff", "#ff0000"]},
                            "legend": {"title": null, "orient": "right", "offset": 12, "padding": 2, "symbolSize": 484, "symbolStrokeWidth": 0, "symbolOpacity": 1, "labelFontSize": 15.5, "labelOffset": 10, "rowPadding": 6}},
                   "shape": {"field": "group", "type": "nominal", "scale": {"domain": ["HA-AT₁R", "BRIL-AT₁R"], "range": ["M-1,-0.07H-0.26V0.07H-1Z M0.26,-0.07H1V0.07H0.26Z M0.27,0A0.27,0.27,0,1,1,-0.27,0A0.27,0.27,0,1,1,0.27,0Z", "M-1,-0.07H-0.27V0.07H-1Z M0.27,-0.07H1V0.07H0.27Z M-0.27,-0.27H0.27V0.27H-0.27Z"]},
                             "legend": {"title": null, "orient": "right", "offset": 12, "padding": 2, "symbolSize": 484, "symbolStrokeWidth": 0, "symbolOpacity": 1, "labelFontSize": 15.5, "labelOffset": 10, "rowPadding": 6}}
                 }}
              ]
            }
          ]
        }
      ]
    }
  ]
}
